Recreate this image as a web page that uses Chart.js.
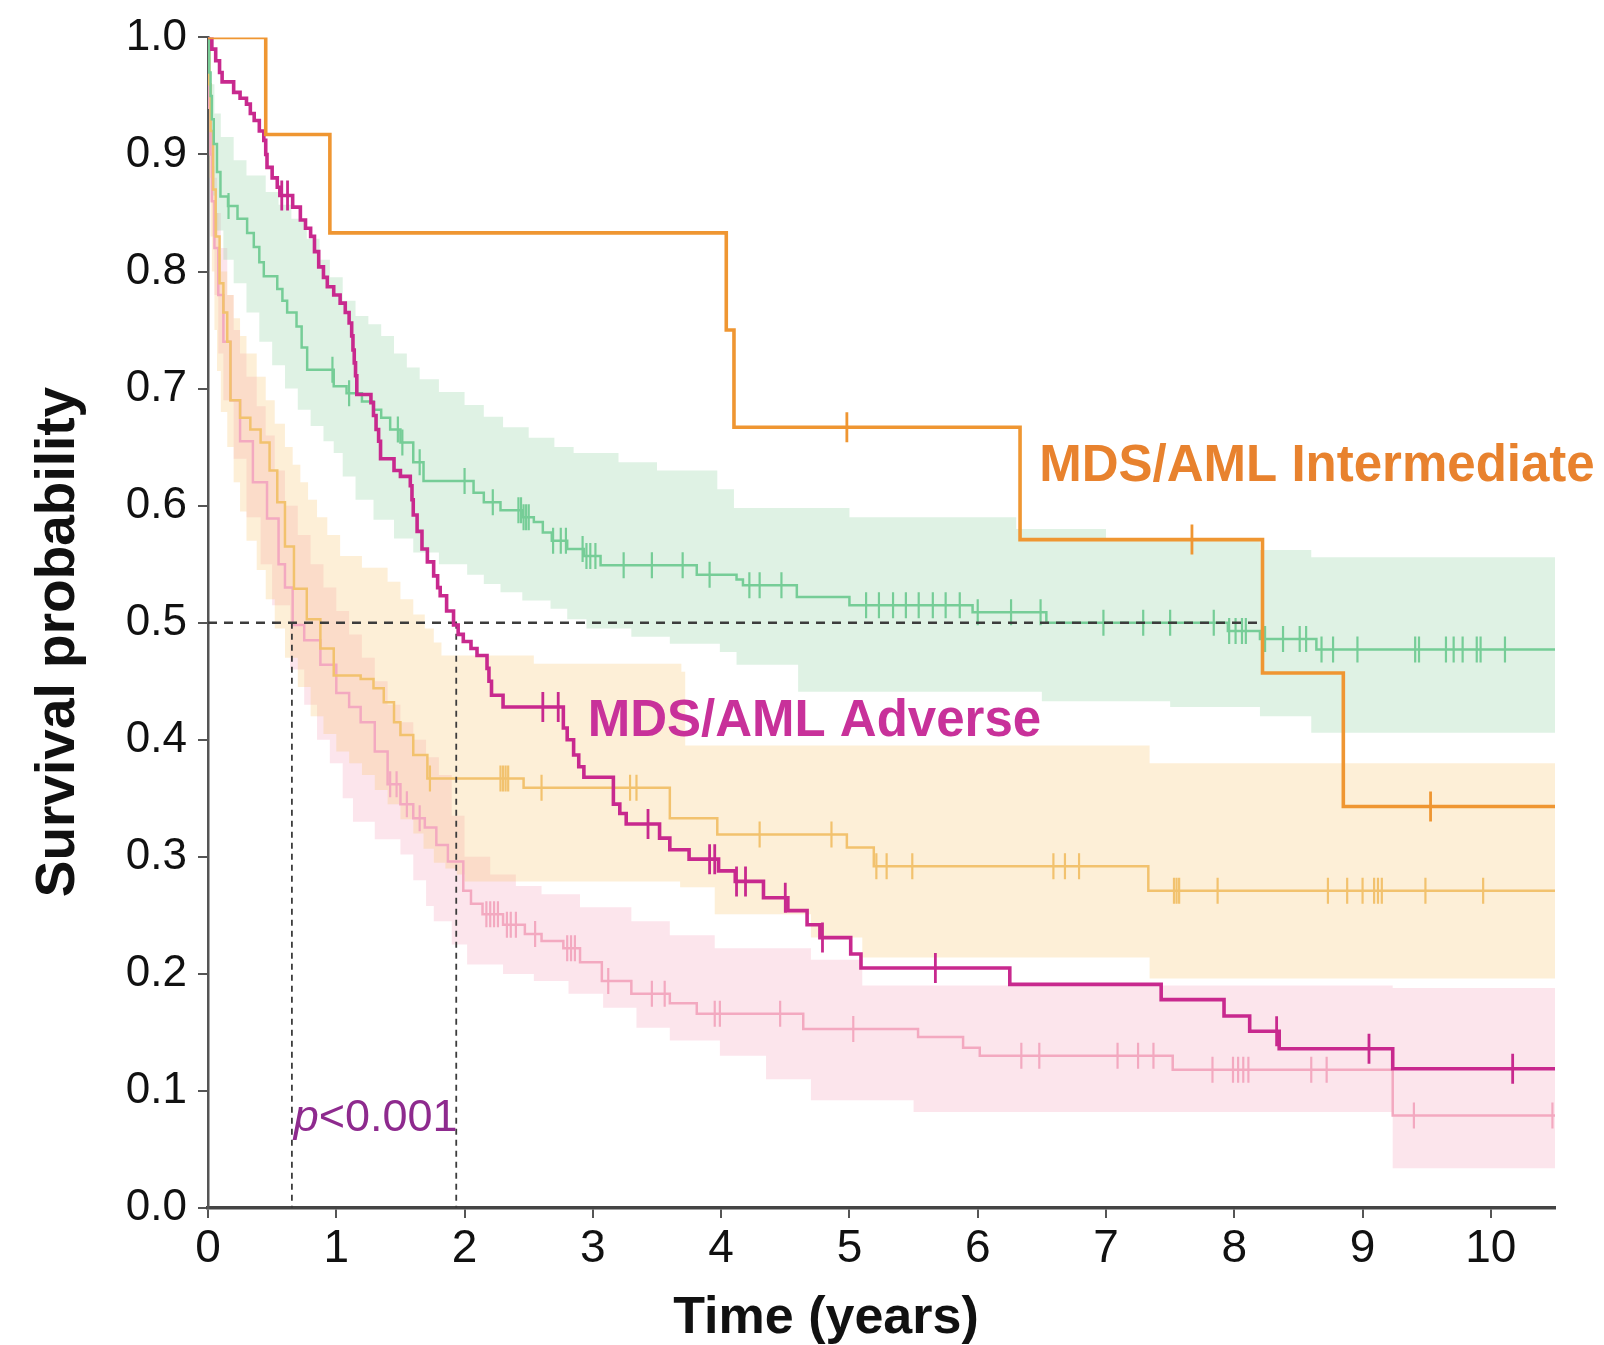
<!DOCTYPE html>
<html>
<head>
<meta charset="utf-8">
<script src="https://cdn.jsdelivr.net/npm/chart.js@4.4.1/dist/chart.umd.min.js"></script>
<style>
    html, body { margin: 0; padding: 0; background: #ffffff; }
    #wrap { width: 1604px; height: 1345px; }
</style>
</head>
<body>
<div id="wrap"><canvas id="kmChart" width="1604" height="1345"></canvas></div>
<script>
// axis ticks
const xTicks = [0, 1, 2, 3, 4, 5, 6, 7, 8, 9, 10];
const yTicks = [0, 0.1, 0.2, 0.3, 0.4, 0.5, 0.6, 0.7, 0.8, 0.9, 1.0];

// MDS/AML Intermediate (bold orange)
const intTimes = [0, 0.45, 0.95, 4.04, 4.10, 6.33, 8.22, 8.85, 10.5];
const intSurv  = [1, 0.917, 0.833, 0.75, 0.667, 0.571, 0.457, 0.343, 0.343];
const intCensor = [4.98, 7.67, 9.53];

// MDS/AML Adverse (bold magenta)
const advTimes = [0, 0.03, 0.06, 0.09, 0.11, 0.2, 0.25, 0.3, 0.33, 0.36, 0.4, 0.435, 0.45, 0.46, 0.5, 0.54, 0.56, 0.66, 0.72, 0.76, 0.8, 0.83, 0.863, 0.9, 0.93, 0.98, 1.03, 1.07, 1.1, 1.12, 1.13, 1.14, 1.15, 1.16, 1.27, 1.29, 1.31, 1.33, 1.345, 1.45, 1.5, 1.577, 1.59, 1.6, 1.63, 1.668, 1.71, 1.759, 1.79, 1.81, 1.86, 1.914, 1.95, 1.99, 2.05, 2.097, 2.175, 2.19, 2.21, 2.30, 2.77, 2.8, 2.85, 2.89, 2.93, 3.16, 3.21, 3.26, 3.52, 3.6, 3.75, 3.98, 4.11, 4.33, 4.52, 4.67, 4.77, 5.01, 5.09, 6.25, 7.43, 7.92, 8.12, 8.35, 9.235, 10.5];
const advSurv  = [1, 0.99, 0.98, 0.97, 0.962, 0.953, 0.948, 0.943, 0.935, 0.929, 0.92, 0.912, 0.90, 0.889, 0.88, 0.872, 0.865, 0.855, 0.844, 0.837, 0.83, 0.817, 0.804, 0.795, 0.787, 0.78, 0.773, 0.765, 0.756, 0.745, 0.733, 0.722, 0.711, 0.695, 0.688, 0.677, 0.665, 0.655, 0.640, 0.63, 0.625, 0.617, 0.605, 0.592, 0.578, 0.563, 0.552, 0.54, 0.53, 0.523, 0.51, 0.498, 0.49, 0.484, 0.478, 0.472, 0.461, 0.45, 0.438, 0.428, 0.41, 0.40, 0.387, 0.377, 0.368, 0.345, 0.337, 0.328, 0.316, 0.306, 0.298, 0.288, 0.279, 0.265, 0.254, 0.242, 0.231, 0.217, 0.205, 0.191, 0.178, 0.164, 0.151, 0.136, 0.119, 0.119];
const advCensor = [0.575, 0.62, 2.61, 2.73, 3.43, 3.91, 3.95, 4.12, 4.19, 4.50, 4.79, 5.67, 8.33, 9.05, 10.17];

// green group
const grnTimes = [0, 0.01, 0.02, 0.03, 0.045, 0.07, 0.097, 0.156, 0.23, 0.305, 0.357, 0.4, 0.435, 0.54, 0.58, 0.617, 0.69, 0.73, 0.773, 0.98, 1.08, 1.2, 1.29, 1.35, 1.42, 1.5, 1.6, 1.68, 2.07, 2.15, 2.28, 2.45, 2.54, 2.61, 2.68, 2.80, 2.93, 3.06, 3.81, 4.12, 4.17, 4.59, 5.0, 5.96, 6.535, 7.95, 8.2, 8.64, 10.5];
const grnSurv  = [1, 0.97, 0.95, 0.93, 0.909, 0.885, 0.864, 0.856, 0.845, 0.833, 0.821, 0.808, 0.796, 0.785, 0.775, 0.765, 0.753, 0.735, 0.716, 0.702, 0.696, 0.689, 0.682, 0.675, 0.665, 0.654, 0.637, 0.621, 0.611, 0.603, 0.596, 0.590, 0.586, 0.577, 0.570, 0.563, 0.557, 0.549, 0.541, 0.537, 0.532, 0.522, 0.515, 0.509, 0.500, 0.493, 0.486, 0.477, 0.477];
const grnCensor = [0.16, 0.97, 1.1, 1.48, 1.515, 1.65, 2.0, 2.22, 2.42, 2.44, 2.46, 2.48, 2.5, 2.69, 2.75, 2.79, 2.92, 2.95, 2.98, 3.02, 3.24, 3.46, 3.70, 3.91, 4.22, 4.30, 4.47, 5.13, 5.23, 5.34, 5.44, 5.54, 5.65, 5.75, 5.86, 6.0, 6.26, 6.49, 6.98, 7.29, 7.50, 7.84, 7.96, 8.01, 8.06, 8.09, 8.24, 8.38, 8.51, 8.56, 8.68, 8.77, 8.96, 9.41, 9.44, 9.65, 9.71, 9.78, 9.89, 9.92, 10.11];
const grnUpTimes = [0, 0.02, 0.05, 0.1, 0.2, 0.3, 0.45, 0.55, 0.65, 0.77, 0.87, 0.95, 1.05, 1.15, 1.25, 1.35, 1.45, 1.55, 1.65, 1.8, 2.0, 2.15, 2.3, 2.5, 2.7, 2.85, 3.2, 3.5, 3.97, 4.1, 5.0, 6.3, 7.0, 8.2, 8.6, 10.5];
const grnUpVals  = [1, 0.96, 0.935, 0.915, 0.895, 0.882, 0.868, 0.857, 0.845, 0.828, 0.81, 0.795, 0.775, 0.762, 0.755, 0.745, 0.73, 0.718, 0.708, 0.697, 0.686, 0.676, 0.667, 0.658, 0.65, 0.645, 0.637, 0.63, 0.614, 0.598, 0.59, 0.58, 0.572, 0.562, 0.556, 0.556];
const grnLoTimes = [0, 0.01, 0.02, 0.04, 0.07, 0.12, 0.2, 0.3, 0.4, 0.5, 0.6, 0.7, 0.8, 0.9, 0.98, 1.05, 1.15, 1.29, 1.45, 1.6, 1.8, 2.02, 2.15, 2.28, 2.45, 2.67, 2.8, 2.95, 3.3, 3.6, 3.99, 4.12, 4.6, 6.5, 7.5, 8.2, 8.6, 10.5];
const grnLoVals  = [1, 0.93, 0.90, 0.865, 0.835, 0.81, 0.79, 0.765, 0.74, 0.72, 0.70, 0.682, 0.668, 0.655, 0.645, 0.625, 0.605, 0.588, 0.572, 0.56, 0.55, 0.541, 0.533, 0.526, 0.519, 0.512, 0.503, 0.495, 0.488, 0.482, 0.475, 0.464, 0.441, 0.433, 0.428, 0.42, 0.406, 0.406];

// light orange group
const ltoTimes = [0, 0.01, 0.02, 0.04, 0.06, 0.09, 0.12, 0.15, 0.175, 0.25, 0.33, 0.41, 0.48, 0.54, 0.6, 0.67, 0.77, 0.876, 0.98, 1.19, 1.29, 1.37, 1.45, 1.5, 1.6, 1.71, 2.46, 3.60, 3.97, 4.98, 5.19, 7.33, 10.5];
const ltoSurv  = [1, 0.96, 0.92, 0.87, 0.83, 0.79, 0.765, 0.74, 0.69, 0.675, 0.665, 0.654, 0.63, 0.603, 0.565, 0.529, 0.503, 0.478, 0.455, 0.452, 0.444, 0.432, 0.415, 0.404, 0.387, 0.367, 0.359, 0.333, 0.319, 0.308, 0.292, 0.271, 0.271];
const ltoCensor = [1.73, 2.28, 2.30, 2.32, 2.34, 2.60, 3.29, 3.34, 4.30, 4.86, 5.21, 5.29, 5.49, 6.59, 6.68, 6.79, 7.53, 7.55, 7.57, 7.87, 8.73, 8.88, 9.0, 9.09, 9.12, 9.15, 9.49, 9.94];
const ltoUpTimes = [0, 0.01, 0.02, 0.03, 0.05, 0.08, 0.1, 0.15, 0.2, 0.25, 0.3, 0.38, 0.45, 0.52, 0.6, 0.66, 0.72, 0.78, 0.85, 0.93, 1.03, 1.2, 1.4, 1.5, 1.6, 1.69, 1.76, 1.82, 2.54, 3.69, 3.72, 7.34, 10.5];
const ltoUpVals  = [1, 0.95, 0.92, 0.89, 0.85, 0.815, 0.80, 0.78, 0.76, 0.745, 0.73, 0.71, 0.69, 0.67, 0.65, 0.635, 0.62, 0.605, 0.59, 0.575, 0.557, 0.547, 0.535, 0.52, 0.507, 0.495, 0.483, 0.472, 0.465, 0.458, 0.395, 0.38, 0.38];
const ltoLoTimes = [0, 0.01, 0.02, 0.03, 0.05, 0.07, 0.1, 0.15, 0.2, 0.25, 0.3, 0.38, 0.45, 0.52, 0.6, 0.7, 0.8, 0.9, 1.0, 1.1, 1.2, 1.3, 1.4, 1.5, 1.6, 1.68, 1.76, 1.85, 1.94, 2.0, 3.68, 3.95, 4.7, 5.1, 7.34, 10.5];
const ltoLoVals  = [1, 0.88, 0.83, 0.80, 0.75, 0.715, 0.68, 0.65, 0.62, 0.595, 0.57, 0.545, 0.52, 0.495, 0.47, 0.445, 0.42, 0.405, 0.39, 0.38, 0.37, 0.357, 0.345, 0.332, 0.32, 0.307, 0.295, 0.29, 0.285, 0.279, 0.274, 0.251, 0.231, 0.214, 0.196, 0.196];

// pink group
const pnkTimes = [0, 0.005, 0.01, 0.02, 0.03, 0.05, 0.08, 0.12, 0.175, 0.25, 0.35, 0.46, 0.55, 0.6, 0.66, 0.75, 0.876, 1.0, 1.1, 1.19, 1.3, 1.40, 1.5, 1.60, 1.69, 1.78, 1.87, 1.99, 2.05, 2.14, 2.3, 2.47, 2.6, 2.77, 2.9, 3.07, 3.30, 3.6, 3.81, 4.64, 5.535, 5.886, 6.016, 7.52, 9.235, 10.5];
const pnkSurv  = [1, 0.97, 0.94, 0.90, 0.86, 0.82, 0.78, 0.74, 0.69, 0.655, 0.62, 0.589, 0.55, 0.53, 0.498, 0.485, 0.464, 0.44, 0.428, 0.415, 0.39, 0.362, 0.345, 0.333, 0.325, 0.31, 0.296, 0.271, 0.26, 0.251, 0.242, 0.234, 0.228, 0.222, 0.21, 0.194, 0.183, 0.175, 0.166, 0.153, 0.146, 0.137, 0.130, 0.118, 0.079, 0.079];
const pnkCensor = [1.42, 1.47, 1.55, 1.65, 2.17, 2.2, 2.23, 2.26, 2.33, 2.36, 2.4, 2.55, 2.8, 2.83, 2.86, 3.12, 3.46, 3.56, 3.95, 3.99, 4.46, 5.03, 6.34, 6.48, 7.09, 7.25, 7.37, 7.83, 7.99, 8.03, 8.07, 8.11, 8.6, 8.72, 9.4, 10.48];
const pnkUpTimes = [0, 0.01, 0.02, 0.03, 0.05, 0.07, 0.1, 0.15, 0.2, 0.25, 0.3, 0.38, 0.45, 0.52, 0.6, 0.7, 0.8, 0.9, 1.0, 1.1, 1.2, 1.3, 1.4, 1.5, 1.6, 1.7, 1.8, 1.9, 2.0, 2.2, 2.4, 2.6, 2.9, 3.3, 3.6, 3.95, 4.7, 5.1, 9.235, 10.5];
const pnkUpVals  = [1, 0.97, 0.945, 0.92, 0.88, 0.85, 0.82, 0.78, 0.75, 0.73, 0.71, 0.685, 0.66, 0.63, 0.60, 0.575, 0.55, 0.53, 0.51, 0.49, 0.47, 0.45, 0.43, 0.415, 0.40, 0.385, 0.37, 0.335, 0.30, 0.285, 0.275, 0.268, 0.257, 0.245, 0.233, 0.222, 0.212, 0.19, 0.188, 0.188];
const pnkLoTimes = [0, 0.01, 0.02, 0.03, 0.05, 0.08, 0.12, 0.2, 0.3, 0.41, 0.5, 0.64, 0.75, 0.85, 0.95, 1.05, 1.13, 1.3, 1.5, 1.6, 1.7, 1.76, 1.9, 2.02, 2.3, 2.54, 2.81, 3.08, 3.34, 3.6, 3.99, 4.35, 4.7, 5.5, 9.235, 10.5];
const pnkLoVals  = [1, 0.90, 0.86, 0.83, 0.78, 0.73, 0.69, 0.64, 0.59, 0.55, 0.515, 0.46, 0.43, 0.40, 0.38, 0.35, 0.33, 0.315, 0.302, 0.28, 0.258, 0.245, 0.225, 0.208, 0.20, 0.194, 0.183, 0.171, 0.154, 0.143, 0.13, 0.11, 0.092, 0.082, 0.034, 0.034];

// median survival guide lines
const medianTimes = [0.654, 1.935, 8.22];

const intLabel = 'MDS/AML Intermediate';
const advLabel = 'MDS/AML Adverse';
const xTitle = 'Time (years)';
const yTitle = 'Survival probability';

const FONT = '"Liberation Sans", Arial, Helvetica, sans-serif';

function toPoints(times, vals) {
    return times.map((t, i) => ({ x: t, y: vals[i] }));
}

function stepAt(times, vals, t) {
    let v = vals[0];
    for (let i = 0; i < times.length; i++) {
        if (times[i] <= t) v = vals[i];
    }
    return v;
}

function curve(times, vals, color, width, order) {
    return {
        type: 'line',
        data: toPoints(times, vals),
        borderColor: color,
        borderWidth: width,
        stepped: 'before',
        pointRadius: 0,
        fill: false,
        order: order
    };
}

function censors(cTimes, times, vals, color, width, radius, order) {
    return {
        type: 'scatter',
        data: cTimes.map(t => ({ x: t, y: stepAt(times, vals, t) })),
        pointStyle: 'line',
        pointRotation: 90,
        pointRadius: radius,
        pointBorderWidth: width,
        pointBorderColor: color,
        pointBackgroundColor: color,
        order: order
    };
}

function band(upT, upV, loT, loV, color) {
    return [
        {
            type: 'line',
            data: toPoints(upT, upV),
            borderWidth: 0,
            borderColor: 'rgba(0,0,0,0)',
            stepped: 'before',
            pointRadius: 0,
            fill: false,
            order: 20
        },
        {
            type: 'line',
            data: toPoints(loT, loV),
            borderWidth: 0,
            borderColor: 'rgba(0,0,0,0)',
            backgroundColor: color,
            stepped: 'before',
            pointRadius: 0,
            fill: '-1',
            order: 20
        }
    ];
}

const datasets = [
    ...band(grnUpTimes, grnUpVals, grnLoTimes, grnLoVals, 'rgba(130, 205, 150, 0.26)'),
    ...band(ltoUpTimes, ltoUpVals, ltoLoTimes, ltoLoVals, 'rgba(248, 196, 110, 0.28)'),
    ...band(pnkUpTimes, pnkUpVals, pnkLoTimes, pnkLoVals, 'rgba(245, 160, 185, 0.28)'),
    curve(grnTimes, grnSurv, '#76cd97', 2.5, 8),
    curve(ltoTimes, ltoSurv, '#f2c26e', 2.5, 8),
    curve(pnkTimes, pnkSurv, '#f3a9c0', 2.5, 8),
    censors(grnCensor, grnTimes, grnSurv, '#76cd97', 2.2, 13, 7),
    censors(ltoCensor, ltoTimes, ltoSurv, '#f2c26e', 2.2, 13, 7),
    censors(pnkCensor, pnkTimes, pnkSurv, '#f3a9c0', 2.2, 13, 7),
    {
        type: 'line',
        data: [{ x: 0, y: 0.5 }, { x: Math.max(...medianTimes), y: 0.5 }],
        borderColor: '#3c3c3c',
        borderWidth: 2.4,
        borderDash: [9, 7],
        pointRadius: 0,
        fill: false,
        order: 5
    },
    ...medianTimes.slice(0, 2).map(t => ({
        type: 'line',
        data: [{ x: t, y: 0.5 }, { x: t, y: 0 }],
        borderColor: '#3c3c3c',
        borderWidth: 1.8,
        borderDash: [6, 5],
        pointRadius: 0,
        fill: false,
        order: 5
    })),
    curve(intTimes, intSurv, '#ef9632', 3.6, 3),
    curve(advTimes, advSurv, '#c8298e', 3.6, 3),
    censors(intCensor, intTimes, intSurv, '#ef9632', 2.8, 15, 2),
    censors(advCensor, advTimes, advSurv, '#c8298e', 2.8, 15, 2)
];

const textPlugin = {
    id: 'kmText',
    afterDraw(chart) {
        const { ctx, scales: { x, y } } = chart;
        ctx.save();
        ctx.textBaseline = 'alphabetic';

        ctx.font = 'bold 51px ' + FONT;
        ctx.fillStyle = '#e8822e';
        ctx.textAlign = 'left';
        ctx.fillText(intLabel, x.getPixelForValue(6.48), y.getPixelForValue(0.621));

        ctx.fillStyle = '#c8319a';
        ctx.fillText(advLabel, x.getPixelForValue(2.96), y.getPixelForValue(0.403));

        // p-value, italic p
        const px = x.getPixelForValue(0.668);
        const py = y.getPixelForValue(0.066);
        ctx.fillStyle = '#8e2a8e';
        ctx.font = 'italic 45px ' + FONT;
        ctx.fillText('p', px, py);
        const pw = ctx.measureText('p').width;
        ctx.font = '45px ' + FONT;
        ctx.fillText('<0.001', px + pw, py);

        // axis titles
        ctx.fillStyle = '#111111';
        ctx.font = 'bold 52px ' + FONT;
        ctx.textAlign = 'center';
        ctx.fillText(xTitle, 826, 1333);

        ctx.font = 'bold 55px ' + FONT;
        ctx.translate(74, 642);
        ctx.rotate(-Math.PI / 2);
        ctx.fillText(yTitle, 0, 0);
        ctx.restore();
    }
};

Chart.defaults.font.family = FONT;
Chart.defaults.color = '#111111';

const kmChart = new Chart(document.getElementById('kmChart'), {
    type: 'line',
    data: { datasets: datasets },
    options: {
        responsive: false,
        animation: false,
        devicePixelRatio: 1,
        events: [],
        layout: {
            padding: { top: 33.5, right: 49, left: 0, bottom: 0 }
        },
        plugins: {
            legend: { display: false },
            tooltip: { enabled: false },
            title: { display: false }
        },
        scales: {
            x: {
                type: 'linear',
                min: 0,
                max: 10.5,
                afterBuildTicks: scale => {
                    scale.ticks = xTicks.map(v => ({ value: v }));
                },
                afterFit: scale => {
                    scale.height = 137;
                },
                ticks: {
                    font: { size: 46 },
                    color: '#111111',
                    padding: 4,
                    maxRotation: 0,
                    autoSkip: false,
                    callback: v => String(v)
                },
                grid: {
                    display: true,
                    drawOnChartArea: false,
                    drawTicks: true,
                    tickLength: 10,
                    color: '#555555',
                    lineWidth: 2
                },
                border: { display: true, color: '#444444', width: 3.5 }
            },
            y: {
                type: 'linear',
                min: 0,
                max: 1,
                afterBuildTicks: scale => {
                    scale.ticks = yTicks.map(v => ({ value: v }));
                },
                afterFit: scale => {
                    scale.width = 208;
                },
                ticks: {
                    font: { size: 44 },
                    color: '#111111',
                    padding: 11,
                    autoSkip: false,
                    callback: v => Number(v).toFixed(1)
                },
                grid: {
                    display: true,
                    drawOnChartArea: false,
                    drawTicks: true,
                    tickLength: 10,
                    color: '#555555',
                    lineWidth: 2
                },
                border: { display: true, color: '#555555', width: 2.5 }
            }
        }
    },
    plugins: [textPlugin]
});
</script>
</body>
</html>
